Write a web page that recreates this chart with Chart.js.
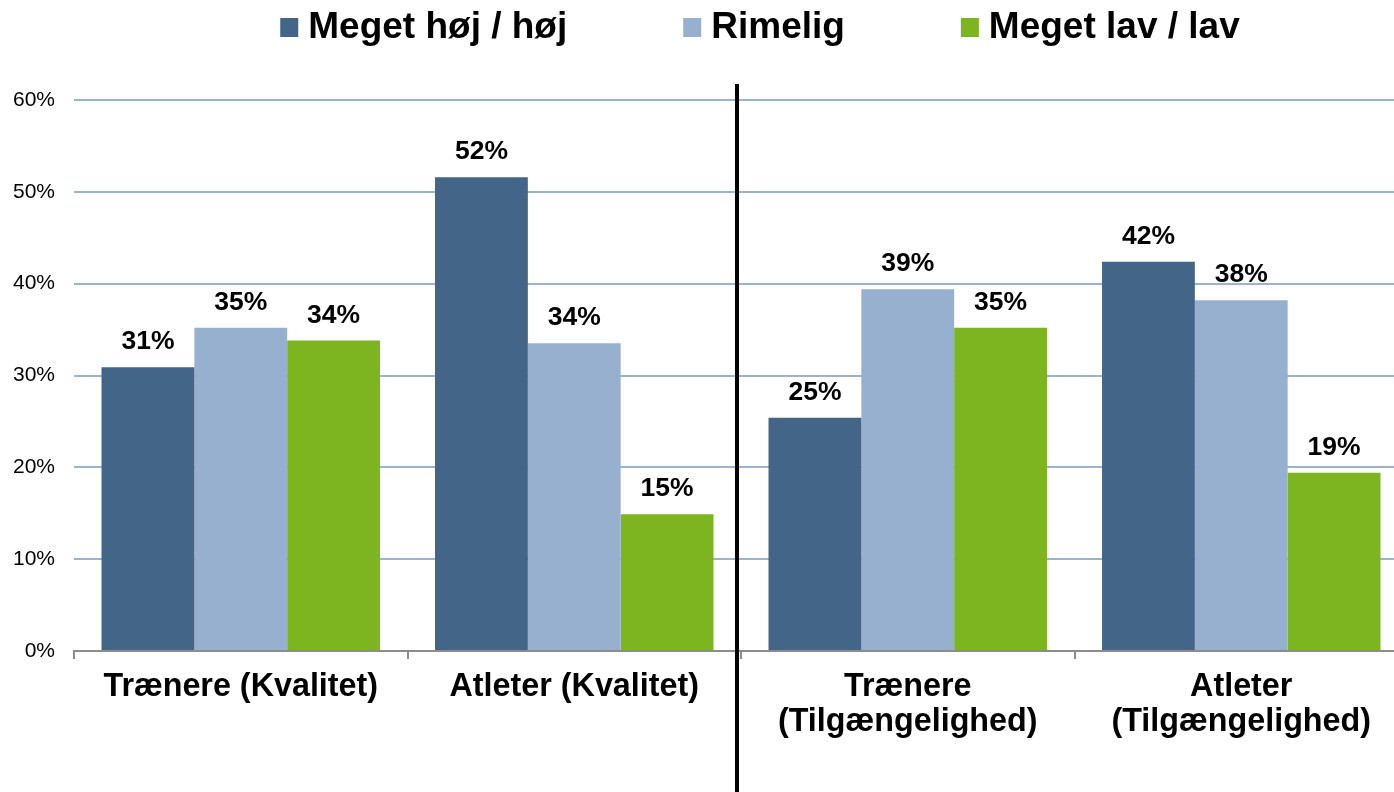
<!DOCTYPE html>
<html>
<head>
<meta charset="utf-8">
<script src="https://cdn.jsdelivr.net/npm/chart.js@4"></script>
<style>
  html, body { margin: 0; padding: 0; background: #fff; overflow: hidden; }
  #chart { display: block; }
</style>
</head>
<body>
<canvas id="chart" width="1410" height="792"></canvas>
<script>
const categories = [
    "Trænere (Kvalitet)",
    "Atleter (Kvalitet)",
    ["Trænere", "(Tilgængelighed)"],
    ["Atleter", "(Tilgængelighed)"],
];
const seriesNames = ["Meget høj / høj", "Rimelig", "Meget lav / lav"];
const hoej = [30.9, 51.6, 25.4, 42.4];
const rimelig = [35.2, 33.5, 39.4, 38.2];
const lav = [33.8, 14.9, 35.2, 19.4];
const yTicks = [0, 10, 20, 30, 40, 50, 60];

const colors = ["#426588", "#98b0d0", "#7cb51f"];

// values above each bar
const valueLabels = {
    id: "valueLabels",
    afterDatasetsDraw(chart) {
        const ctx = chart.ctx;
        ctx.save();
        ctx.font = "bold 26.5px 'Liberation Sans', Arial, sans-serif";
        ctx.fillStyle = "#000";
        ctx.textAlign = "center";
        ctx.textBaseline = "alphabetic";
        chart.data.datasets.forEach((ds, i) => {
            chart.getDatasetMeta(i).data.forEach((bar, j) => {
                ctx.fillText(Math.round(ds.data[j]) + "%", bar.x, bar.y - 18);
            });
        });
        ctx.restore();
    },
};

// black divider between kvalitet and tilgængelighed
const divider = {
    id: "divider",
    afterDraw(chart) {
        const x = chart.scales.x;
        const mid = (x.getPixelForValue(1) + x.getPixelForValue(2)) / 2 - 4;
        const ctx = chart.ctx;
        ctx.save();
        ctx.strokeStyle = "#000";
        ctx.lineWidth = 4;
        ctx.beginPath();
        ctx.moveTo(mid, 84);
        ctx.lineTo(mid, chart.height);
        ctx.stroke();
        ctx.restore();
    },
};

// legend on top, drawn by hand so it can sit off-centre like the original
const topLegend = {
    id: "topLegend",
    afterDraw(chart) {
        const ctx = chart.ctx;
        ctx.save();
        ctx.font = "bold 37px 'Liberation Sans', Arial, sans-serif";
        ctx.textBaseline = "alphabetic";
        const box = 18, gapText = 10, gapItem = 116;
        const items = chart.data.datasets.map((ds) => ({
            label: ds.label,
            color: ds.backgroundColor,
            w: box + gapText + ctx.measureText(ds.label).width,
        }));
        const total = items.reduce((s, it) => s + it.w, 0) + gapItem * (items.length - 1);
        let x = 760 - total / 2;
        items.forEach((it) => {
            ctx.fillStyle = it.color;
            ctx.fillRect(x, 18, box, 19);
            ctx.fillStyle = "#000";
            ctx.fillText(it.label, x + box + gapText, 38);
            x += it.w + gapItem;
        });
        ctx.restore();
    },
};

const ctx = document.getElementById("chart").getContext("2d");

new Chart(ctx, {
    type: "bar",
    data: {
        labels: categories,
        datasets: [
            { label: seriesNames[0], data: hoej, backgroundColor: colors[0] },
            { label: seriesNames[1], data: rimelig, backgroundColor: colors[1] },
            { label: seriesNames[2], data: lav, backgroundColor: colors[2] },
        ],
    },
    options: {
        responsive: false,
        animation: false,
        layout: { padding: { top: 100, right: 2, left: 0, bottom: 0 } },
        datasets: {
            bar: { categoryPercentage: 0.835, barPercentage: 1.0 },
        },
        plugins: {
            legend: { display: false },
            tooltip: { enabled: false },
        },
        scales: {
            x: {
                grid: {
                    drawOnChartArea: false,
                    drawTicks: true,
                    tickLength: 8,
                    color: "#8c8c8c",
                    lineWidth: 2,
                },
                border: { display: true, color: "#8c8c8c", width: 2 },
                ticks: {
                    color: "#000",
                    padding: 10,
                    maxRotation: 0,
                    autoSkip: false,
                    font: { family: "'Liberation Sans', Arial, sans-serif", size: 32.3, weight: "bold", lineHeight: 1.1 },
                },
                afterFit(scale) {
                    scale.height = 141;
                },
            },
            y: {
                min: 0,
                max: 60,
                afterBuildTicks(scale) {
                    scale.ticks = yTicks.map((v) => ({ value: v }));
                },
                grid: {
                    color: "#9cb2cf",
                    lineWidth: 2,
                    drawTicks: false,
                },
                border: { display: false },
                ticks: {
                    color: "#000",
                    padding: 19,
                    callback: (v) => v + "%",
                    font: { family: "'Liberation Sans', Arial, sans-serif", size: 21 },
                },
                afterFit(scale) {
                    scale.width = 74;
                },
            },
        },
    },
    plugins: [valueLabels, divider, topLegend],
});
</script>
</body>
</html>
